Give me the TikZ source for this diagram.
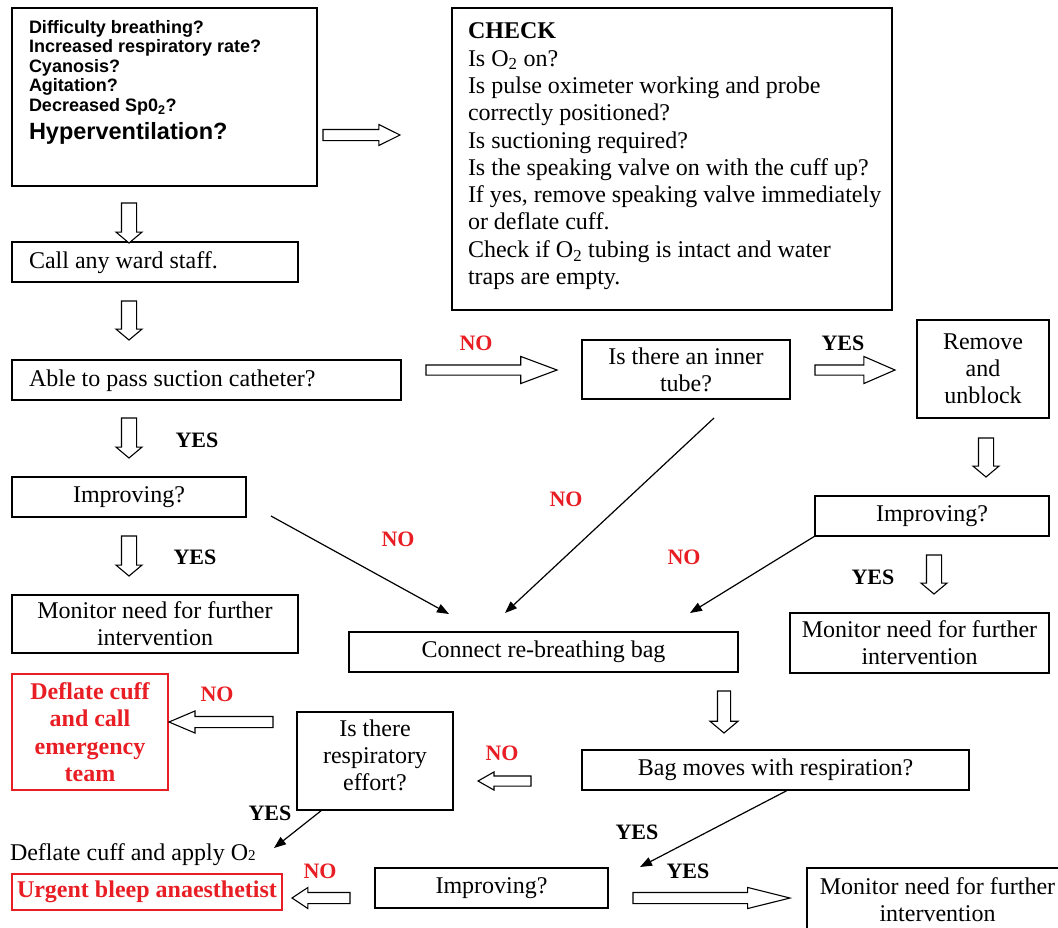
\documentclass[tikz,border=0pt]{standalone}
\usepackage{fontspec}
\setmainfont{Liberation Serif}
\newfontfamily\arialf{Liberation Sans}
\usetikzlibrary{arrows.meta,shapes.arrows}
\definecolor{nored}{RGB}{232,30,36}
\tikzset{
 box/.style={draw, line width=1.3pt, inner sep=0pt, outer sep=0pt, align=center, font=\fontsize{24}{27}\selectfont},
 redbox/.style={draw=nored, text=nored, line width=1.1pt, font=\fontsize{24}{27.4}\selectfont\bfseries},
 nolab/.style={text=nored, inner sep=0pt, font=\fontsize{22}{22}\selectfont\bfseries},
 yeslab/.style={inner sep=0pt, font=\fontsize{22}{22}\selectfont\bfseries},
 thinarr/.style={line width=1.2pt, -{Triangle[length=12pt,width=9pt]}},
 blockarr/.style={single arrow, draw, line width=1.1pt, fill=white, inner xsep=0pt, outer sep=0pt, anchor=tail},
 plain/.style={inner sep=0pt, outer sep=0pt},
 bodytext/.style={inner sep=0pt, outer sep=0pt, align=center, font=\fontsize{24}{27}\selectfont},
}
\newcommand{\mkbox}[7][]{\node[box,#1,anchor=north west,minimum width=#5pt-#3pt,minimum height=#6pt-#4pt] (#2) at (#3,#4) {#7};}
\newcommand{\mkarr}[8]{\node[blockarr, rotate=#4, minimum height=#5pt, inner ysep=#6pt, single arrow head extend=#7pt-#6pt, single arrow tip angle=#8] (#1) at (#2,#3) {};}
\begin{document}
\begin{tikzpicture}[x=1pt,y=-1pt]
\useasboundingbox (0,0) rectangle (1058,927);
\clip (0,0) rectangle (1058,927);
% boxes
\mkbox{b1}{12}{8}{317}{186}{}
\mkbox{chkbox}{452}{8}{892}{310}{}
\mkbox{call}{12}{242}{298}{282}{}
\mkbox{able}{12}{360}{401}{400}{}
\mkbox{inner}{582}{340}{790}{399}{Is there an inner\\tube?}
\mkbox{remove}{917}{320}{1049}{418}{Remove\\and\\unblock}
\mkbox{impR}{815}{496}{1049}{536}{Improving?}
\mkbox{monR}{790}{613}{1049}{673}{Monitor need for further\\intervention}
\mkbox{impL}{12}{477}{246}{517}{Improving?}
\mkbox{monL}{12}{595}{298}{653}{Monitor need for further\\intervention}
\mkbox{conn}{349}{632}{738}{672}{Connect re-breathing bag}
\mkbox[redbox]{red1}{12}{674}{168}{790}{Deflate cuff\\and call\\emergency\\team}
\mkbox{resp}{297}{712}{453}{810}{}
\mkbox{bag}{582}{750}{969}{790}{Bag moves with respiration?}
\mkbox[redbox]{urgent}{12}{874}{282}{910}{Urgent bleep anaesthetist}
\mkbox{impB}{375}{868}{608}{908}{Improving?}
\mkbox{monB}{807}{868}{1068}{932}{Monitor need for further\\intervention}
% texts placed separately
\node[bodytext, anchor=west] (callt) at (29,263) {Call any ward staff.};
\node[bodytext, anchor=west] (ablet) at (29,381) {Able to pass suction catheter?};
\node[bodytext] (respt) at (375,755) {Is there\\respiratory\\effort?};
\node[plain, anchor=north west, align=left, font=\arialf\bfseries\fontsize{18}{19.6}\selectfont] (sym) at (29,20)
 {Difficulty breathing?\\Increased respiratory rate?\\Cyanosis?\\Agitation?\\Decreased Sp0\textsubscript{2}?};
\node[plain, anchor=base west, font=\arialf\bfseries\fontsize{23.5}{26}\selectfont] (hyp) at (29,139) {Hyperventilation?};
\node[plain, anchor=north west, align=left, font=\fontsize{24}{27.3}\selectfont] (chk) at (468,23)
 {\textbf{CHECK}\\
 Is O\textsubscript{2} on?\\
 Is pulse oximeter working and probe\\
 correctly positioned?\\
 Is suctioning required?\\
 Is the speaking valve on with the cuff up?\\
 If yes, remove speaking valve immediately\\
 or deflate cuff.\\
 Check if O\textsubscript{2} tubing is intact and water\\
 traps are empty.};
\node[plain, anchor=base west, font=\fontsize{24}{27}\selectfont] (dca) at (10,860) {Deflate cuff and apply O{\fontsize{15}{15}\selectfont 2}};
% block arrows
\mkarr{a1}{323}{135}{0}{77}{5}{10}{53}
\mkarr{a2}{129}{203}{-90}{40}{7}{12.5}{100}
\mkarr{a3}{129}{301}{-90}{39}{7}{12.5}{100}
\mkarr{a4}{129}{418}{-90}{40}{7}{12.5}{100}
\mkarr{a5}{129}{536}{-90}{40}{7}{12.5}{100}
\mkarr{a6}{426}{370}{0}{131}{4.5}{13}{41}
\mkarr{a7}{815}{370}{0}{80}{4.5}{13}{47}
\mkarr{a8}{986}{438}{-90}{39}{7}{12.5}{100}
\mkarr{a9}{934}{555}{-90}{39}{7}{12.5}{100}
\mkarr{a10}{724}{691}{-90}{42}{6}{13.5}{100}
\mkarr{a11}{531}{781}{180}{53}{4.5}{8.5}{59}
\mkarr{a12}{273}{722}{180}{104}{5}{10.5}{46}
\mkarr{a13}{350}{898}{180}{58}{5}{10}{67}
\mkarr{a14}{633}{898}{0}{157}{5}{10}{28}
% thin arrows
\coordinate (p1) at (271,516); \coordinate (q1) at (449,614);
\coordinate (p2) at (714,418); \coordinate (q2) at (505,613);
\coordinate (q3) at (690,613);
\coordinate (p4) at (322,810); \coordinate (q4) at (274,848);
\coordinate (p5) at (788,790); \coordinate (q5) at (640,867);
\draw[thinarr] (p1) -- (q1);
\draw[thinarr] (p2) -- (q2);
\draw[thinarr] (impR.south west) -- (q3);
\draw[thinarr] (p4) -- (q4);
\draw[thinarr] (p5) -- (q5);
% labels
\node[nolab] (n1) at (476,343) {NO};
\node[nolab] (n2) at (398,539) {NO};
\node[nolab] (n3) at (566,499) {NO};
\node[nolab] (n4) at (684,557) {NO};
\node[nolab] (n5) at (217,694) {NO};
\node[nolab] (n6) at (502,753) {NO};
\node[nolab] (n7) at (320,871) {NO};
\node[yeslab] (y1) at (843,343) {YES};
\node[yeslab] (y2) at (197,440) {YES};
\node[yeslab] (y3) at (195,557) {YES};
\node[yeslab] (y4) at (873,577) {YES};
\node[yeslab] (y5) at (270,813) {YES};
\node[yeslab] (y6) at (637,832) {YES};
\node[yeslab] (y7) at (688,871) {YES};
\end{tikzpicture}
\end{document}
